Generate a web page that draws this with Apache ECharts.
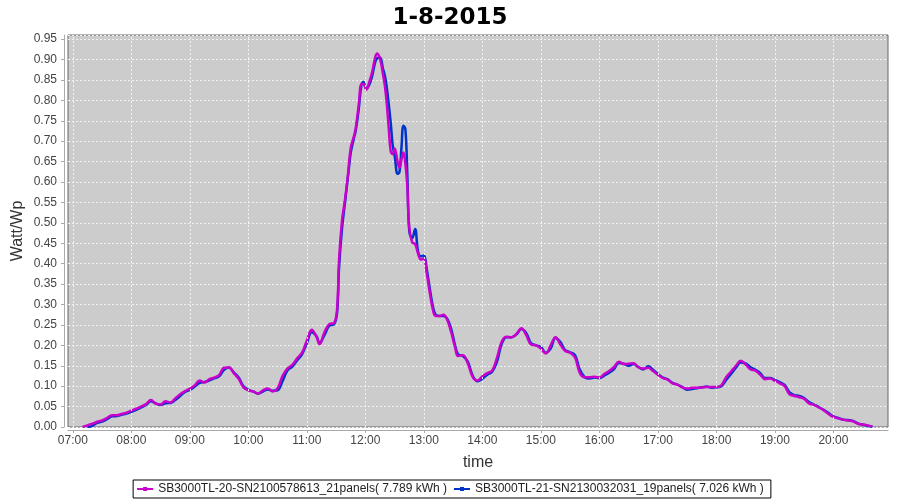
<!DOCTYPE html>
<html>
<head>
<meta charset="utf-8">
<script src="https://cdn.jsdelivr.net/npm/echarts@6/dist/echarts.min.js"></script>
<style>html,body{margin:0;padding:0;background:#fff}#c{width:900px;height:500px}</style>
</head>
<body>
<div id="c"></div>
<script>
const chartTitle = '1-8-2015';
const seriesNames = ['SB3000TL-20-SN2100578613_21panels( 7.789 kWh )', 'SB3000TL-21-SN2130032031_19panels( 7.026 kWh )'];
const xTickLabels = ['07:00','08:00','09:00','10:00','11:00','12:00','13:00','14:00','15:00','16:00','17:00','18:00','19:00','20:00'];
const yTickStep = 0.05;

const times = [
 '07:10','07:15','07:20','07:25','07:30','07:35','07:40','07:45','07:50','07:55',
 '08:00','08:05','08:10','08:15','08:20','08:25','08:30','08:35','08:40','08:45','08:50','08:55',
 '09:00','09:05','09:10','09:15','09:20','09:25','09:30','09:35','09:40','09:45','09:50','09:55',
 '10:00','10:05','10:10','10:15','10:20','10:25','10:30','10:35','10:40','10:45','10:50','10:55',
 '11:00','11:05','11:10',
 '11:13','11:18','11:23','11:28','11:31','11:33','11:36','11:39','11:42','11:45','11:48','11:50','11:53','11:56','11:58',
 '12:01','12:04','12:07','12:10','12:12','12:15','12:18','12:20','12:22','12:24','12:26','12:28','12:30','12:33','12:35','12:37','12:39','12:41','12:43','12:45','12:48','12:51','12:54','12:57',
 '13:00','13:03','13:06','13:09','13:12','13:16','13:20','13:24','13:28','13:32','13:35','13:40','13:45','13:50','13:55',
 '14:00','14:05','14:10','14:15','14:20','14:25','14:30','14:35','14:40','14:45','14:50','14:55',
 '15:00','15:05','15:10','15:15','15:20','15:25','15:30','15:35','15:40','15:45','15:50','15:55',
 '16:00','16:05','16:10','16:15','16:20','16:25','16:30','16:35','16:40','16:45','16:50','16:55',
 '17:00','17:05','17:10','17:15','17:20','17:25','17:30','17:35','17:40','17:45','17:50','17:55',
 '18:00','18:05','18:10','18:15','18:20','18:25','18:30','18:35','18:40','18:45','18:50','18:55',
 '19:00','19:05','19:10','19:15','19:20','19:25','19:30','19:35','19:40','19:45','19:50','19:55',
 '20:00','20:05','20:10','20:15','20:20','20:25','20:30','20:35','20:40'
];

const values20 = [
 0.000,0.004,0.008,0.013,0.016,0.022,0.029,0.029,0.032,0.035,
 0.040,0.045,0.050,0.056,0.066,0.057,0.055,0.063,0.060,0.070,0.080,0.088,
 0.094,0.102,0.114,0.109,0.117,0.121,0.127,0.145,0.146,0.132,0.118,0.097,
 0.090,0.087,0.082,0.090,0.094,0.087,0.095,0.125,0.143,0.152,0.168,0.182,
 0.212,0.238,0.220,
 0.203,0.232,0.252,0.255,0.290,0.410,0.505,0.555,0.615,0.684,0.710,0.730,0.785,0.840,0.840,
 0.826,0.845,0.870,0.905,0.915,0.902,0.865,0.835,0.790,0.730,0.675,0.668,0.682,0.650,0.635,0.655,0.672,0.645,0.590,0.488,0.452,0.448,0.425,0.410,
 0.413,0.375,0.330,0.290,0.272,0.272,0.275,0.262,0.232,0.195,0.174,0.176,0.156,0.123,0.114,
 0.124,0.132,0.138,0.170,0.210,0.221,0.220,0.228,0.242,0.225,0.202,0.200,
 0.192,0.180,0.200,0.220,0.202,0.186,0.182,0.170,0.132,0.122,0.122,0.123,
 0.121,0.130,0.137,0.147,0.160,0.154,0.155,0.156,0.146,0.143,0.145,0.137,
 0.128,0.120,0.116,0.107,0.104,0.097,0.094,0.096,0.096,0.097,0.098,0.098,
 0.098,0.102,0.122,0.136,0.150,0.162,0.153,0.141,0.138,0.128,0.117,0.119,
 0.113,0.107,0.100,0.080,0.076,0.073,0.069,0.058,0.054,0.048,0.041,0.032,
 0.025,0.021,0.018,0.016,0.014,0.008,0.006,0.004,0.001
];

const values21 = [
 null,0.000,0.003,0.010,0.013,0.019,0.026,0.027,0.030,0.033,
 0.037,0.042,0.048,0.054,0.063,0.058,0.054,0.058,0.059,0.066,0.076,0.086,
 0.091,0.099,0.108,0.110,0.114,0.119,0.124,0.140,0.146,0.134,0.121,0.100,
 0.091,0.087,0.082,0.087,0.092,0.089,0.090,0.112,0.138,0.148,0.163,0.178,
 0.205,0.232,0.222,
 0.205,0.225,0.248,0.252,0.280,0.390,0.485,0.548,0.610,0.672,0.705,0.725,0.775,0.838,0.845,
 0.828,0.838,0.860,0.893,0.903,0.905,0.878,0.860,0.830,0.790,0.745,0.690,0.665,0.620,0.625,0.684,0.738,0.730,0.620,0.480,0.462,0.485,0.430,0.418,
 0.420,0.385,0.340,0.298,0.275,0.272,0.272,0.265,0.240,0.200,0.178,0.174,0.160,0.126,0.112,
 0.118,0.128,0.135,0.160,0.205,0.220,0.220,0.227,0.240,0.230,0.205,0.200,
 0.196,0.182,0.192,0.218,0.208,0.188,0.183,0.176,0.140,0.122,0.119,0.121,
 0.120,0.126,0.133,0.142,0.157,0.155,0.150,0.154,0.147,0.141,0.149,0.140,
 0.130,0.121,0.117,0.108,0.104,0.098,0.091,0.093,0.095,0.097,0.099,0.096,
 0.097,0.100,0.115,0.130,0.145,0.158,0.156,0.146,0.140,0.132,0.120,0.120,
 0.115,0.110,0.103,0.085,0.078,0.076,0.071,0.061,0.055,0.049,0.042,0.034,
 0.026,0.022,0.018,0.017,0.015,0.009,0.006,0.003,0.001
];

function toMin(t){ const p = t.split(':'); return (+p[0])*60 + (+p[1]); }
function fmt(m){ const h = Math.floor(m/60), mm = Math.round(m%60); return (h<10?'0':'')+h+':'+(mm<10?'0':'')+mm; }
const xMin = toMin('06:55'), xMax = toMin('20:56');
const hourTicks = xTickLabels.map(toMin);

const d20 = times.map((t,i)=>[toMin(t), values20[i]]);
const d21 = times.map((t,i)=>[toMin(t), values21[i]]);

const font = 'Liberation Sans, Arial, sans-serif';
const gridLine = { color: '#f2f2f2', type: [2, 2], width: 1 };
const chart = echarts.init(document.getElementById('c'), null, {renderer:'canvas'});
chart.setOption({
  animation: false,
  backgroundColor: '#ffffff',
  title: { text: chartTitle, left: 'center', top: 2,
    textStyle: { fontFamily: 'DejaVu Sans', fontSize: 23, fontWeight: 'bold', color: '#000' } },
  grid: { left: 68, right: 12, top: 35, bottom: 73, show: true, containLabel: false,
    outerBoundsMode: 'none',
    backgroundColor: '#cccccc', borderColor: '#666666', borderWidth: 1 },
  legend: {
    data: seriesNames, bottom: 2, left: 'center',
    borderColor: '#000', borderWidth: 1, padding: [3, 7, 3, 3], itemGap: 6,
    itemWidth: 16, itemHeight: 5,
    textStyle: { fontFamily: font, fontSize: 12, color: '#222' }
  },
  xAxis: {
    type: 'value', min: xMin, max: xMax,
    name: 'time', nameLocation: 'middle', nameGap: 25, nameMoveOverlap: false,
    nameTextStyle: { fontFamily: font, fontSize: 16, color: '#333' },
    offset: 3,
    axisLine: { show: true, onZero: false, lineStyle: { color: '#aaaaaa' } },
    axisTick: { show: true, length: 3, customValues: hourTicks, lineStyle: { color: '#aaaaaa' } },
    axisLabel: { fontFamily: font, fontSize: 12, color: '#444', margin: 5,
      customValues: hourTicks, formatter: v => fmt(v) },
    splitLine: { show: false }
  },
  yAxis: {
    type: 'value', min: 0, max: 0.96, interval: yTickStep,
    name: 'Watt/Wp', nameLocation: 'middle', nameGap: 38, nameMoveOverlap: false,
    nameTextStyle: { fontFamily: font, fontSize: 16, color: '#333' },
    offset: 4,
    axisLine: { show: true, onZero: false, lineStyle: { color: '#aaaaaa' } },
    axisTick: { show: true, length: 3, lineStyle: { color: '#aaaaaa' } },
    axisLabel: { fontFamily: font, fontSize: 12, color: '#444', margin: 7,
      showMaxLabel: false,
      formatter: v => (Math.abs(v/yTickStep - Math.round(v/yTickStep)) < 1e-6) ? v.toFixed(2) : '' },
    splitLine: { show: true, lineStyle: gridLine }
  },
  series: [
    { name: 'hour-grid', type: 'line', data: [], z: 1, silent: true,
      markLine: { silent: true, symbol: ['none', 'none'], label: { show: false },
        lineStyle: gridLine, animation: false,
        data: hourTicks.map(v => ({ xAxis: v })) } },
    { name: seriesNames[0], type: 'line', data: d20, smooth: 0.4, z: 4,
      symbol: 'rect', symbolSize: 4, showSymbol: false,
      color: '#cc00cc', lineStyle: { width: 2.5, color: '#cc00cc' } },
    { name: seriesNames[1], type: 'line', data: d21, smooth: 0.4, z: 3,
      symbol: 'rect', symbolSize: 4, showSymbol: false,
      color: '#0033cc', lineStyle: { width: 2.5, color: '#0033cc' } }
  ]
});
</script>
</body>
</html>
